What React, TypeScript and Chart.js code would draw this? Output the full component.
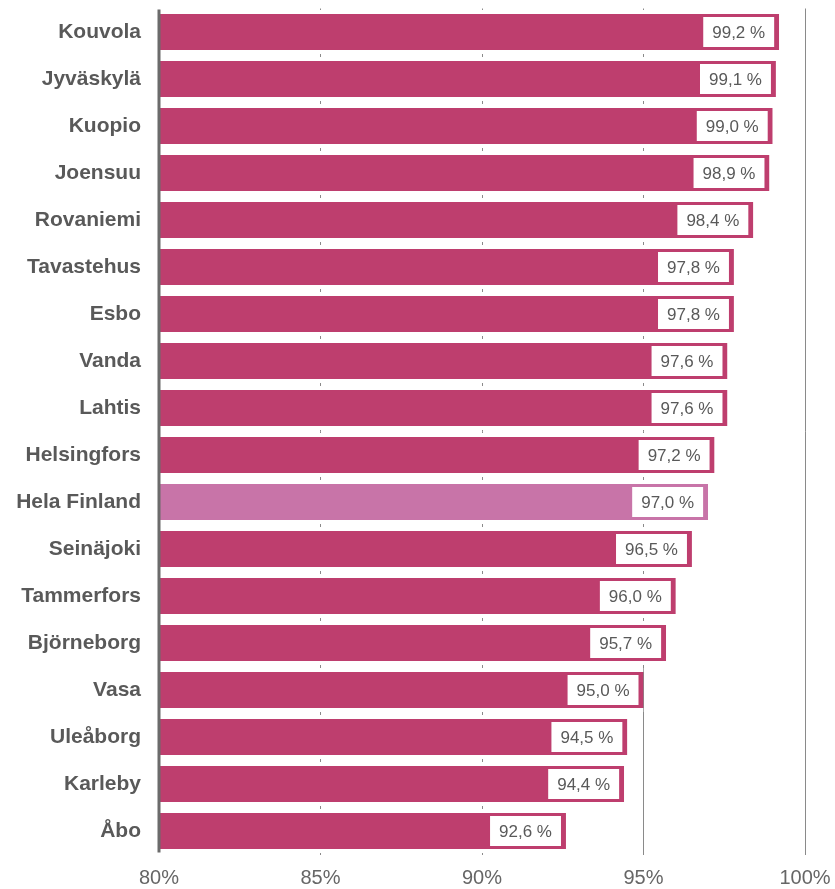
import React, { useEffect, useRef } from "react";
import { Chart, registerables } from "chart.js";

Chart.register(...registerables);

const categories = [
  "Kouvola", "Jyväskylä", "Kuopio", "Joensuu", "Rovaniemi", "Tavastehus", "Esbo", "Vanda", "Lahtis",
  "Helsingfors", "Hela Finland", "Seinäjoki", "Tammerfors", "Björneborg", "Vasa", "Uleåborg", "Karleby", "Åbo",
];
const values = [99.2, 99.1, 99.0, 98.9, 98.4, 97.8, 97.8, 97.6, 97.6, 97.2, 97.0, 96.5, 96.0, 95.7, 95.0, 94.5, 94.4, 92.6];
const highlight = "Hela Finland";
const xTicks = [80, 85, 90, 95, 100];

const MAIN = "#BE3E6E";
const HIGH = "#C874A8";

const labelPlugin = {
  id: "valueBoxes",
  afterDatasetsDraw(chart: any) {
    const ctx = chart.ctx;
    const meta = chart.getDatasetMeta(0);
    const area = chart.chartArea;
    ctx.save();
    ctx.font = "17px 'Liberation Sans', Arial, sans-serif";
    meta.data.forEach((el: any, i: number) => {
      const txt = values[i].toFixed(1).replace(".", ",") + " %";
      const w = ctx.measureText(txt).width + 18;
      const h = 30;
      const right = el.x - 5;
      const left = right - w;
      ctx.fillStyle = "#ffffff";
      ctx.fillRect(left, el.y - h / 2, w, h);
      ctx.fillStyle = "#595959";
      ctx.textAlign = "center";
      ctx.textBaseline = "middle";
      ctx.fillText(txt, left + w / 2, el.y + 1);
    });
    // vertical axis line on top of bars
    ctx.strokeStyle = "#6b6b6b";
    ctx.lineWidth = 3;
    ctx.beginPath();
    ctx.moveTo(area.left, area.top + 1);
    ctx.lineTo(area.left, area.bottom - 2);
    ctx.stroke();
    ctx.restore();
  },
};

export default function App() {
  const ref = useRef<HTMLCanvasElement>(null);
  useEffect(() => {
    if (!ref.current) return;
    const chart = new Chart(ref.current, {
      type: "bar",
      data: {
        labels: categories,
        datasets: [
          {
            data: values,
            backgroundColor: categories.map((c) => (c === highlight ? HIGH : MAIN)),
            borderColor: "#ffffff",
            borderWidth: { top: 4, bottom: 4, left: 0, right: 0 },
            borderSkipped: false,
            barPercentage: 0.94,
            categoryPercentage: 1,
          },
        ],
      },
      options: {
        indexAxis: "y",
        animation: false,
        responsive: false,
        maintainAspectRatio: false,
        layout: { padding: { top: 8.5, right: 30, left: 0, bottom: 0 } },
        plugins: { legend: { display: false }, tooltip: { enabled: false } },
        scales: {
          x: {
            min: 80,
            max: 100,
            afterFit: (s: any) => {
              s.height = 34.5;
              s.paddingLeft = 0;
              s.paddingRight = 0;
            },
            afterBuildTicks: (s: any) => {
              s.ticks = xTicks.map((v) => ({ value: v }));
            },
            ticks: {
              padding: 12,
              color: "#666666",
              font: { family: "'Liberation Sans', Arial, sans-serif", size: 20 },
              callback: (v: any) => v + "%",
            },
            grid: {
              color: (c: any) => (c.tick && c.tick.value === 80 ? "rgba(0,0,0,0)" : "#8a8a8a"),
              lineWidth: 1,
              drawTicks: false,
            },
            border: { display: false },
          },
          y: {
            afterFit: (s: any) => {
              s.width = 159;
              s.paddingTop = 0;
              s.paddingBottom = 0;
            },
            ticks: {
              padding: 18,
              color: "#595959",
              font: { family: "'Liberation Sans', Arial, sans-serif", size: 21, weight: "bold" },
            },
            grid: { display: false, drawTicks: false },
            border: { display: false },
          },
        },
      },
      plugins: [labelPlugin],
    } as any);
    return () => chart.destroy();
  }, []);
  return (
    <div style={{ position: "fixed", left: 0, top: 0, width: 835, height: 889, background: "#fff" }}>
      <canvas ref={ref} width={835} height={889} style={{ width: 835, height: 889 }} />
    </div>
  );
}
